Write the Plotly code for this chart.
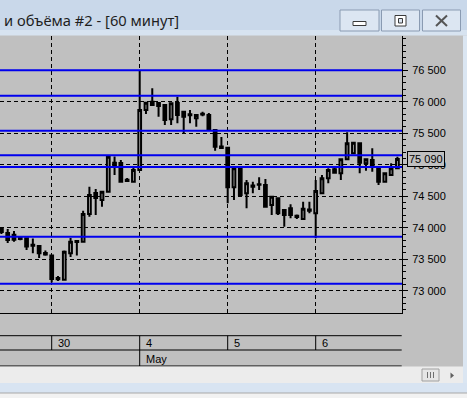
import plotly.graph_objects as go

# ---------------- data ----------------
candle_idx = list(range(-8, 56))  # hourly candles; 0 = first candle of 30 Apr
opens = [73930, 73916, 73890, 73850, 73832, 73730, 73710, 73600,
         73560, 73180, 73175, 73594, 73790, 73778, 74217, 74551, 74440, 74571, 75030, 75027, 74760, 74730,
         74916, 75868, 76000, 75979, 75948, 75721, 75979, 75841, 75800, 75737, 75795, 75789, 75551, 75290,
         75270, 74641, 74943, 74546, 74670, 74680, 74678, 74360, 74467, 74281, 74308, 74190, 74140, 74270,
         74229, 74546, 74784, 74927, 74863, 75086, 75181, 75340, 75022, 75075, 74943, 74730, 74837, 74943]
highs = [74010, 73980, 73948, 73865, 73840, 73830, 73725, 73640,
         73565, 73235, 73640, 73837, 73800, 74270, 74650, 74614, 74580, 75154, 75130, 75075, 74790, 74968,
         76503, 75990, 76213, 75990, 75960, 75985, 76079, 75845, 75868, 75800, 75841, 75821, 75560, 75440,
         75280, 74950, 74964, 74757, 74730, 74800, 74775, 74500, 74475, 74290, 74371, 74210, 74413, 74413,
         74757, 74837, 74943, 74968, 75095, 75514, 75360, 75345, 75095, 75260, 74950, 74870, 75022, 75125]
lows = [73900, 73757, 73778, 73800, 73646, 73594, 73520, 73555,
        73130, 73155, 73165, 73535, 73560, 73770, 74175, 74202, 74333, 74560, 74837, 74720, 74725, 74725,
        74900, 75805, 75940, 75762, 75630, 75630, 75657, 75498, 75657, 75603, 75770, 75540, 75222, 75260,
        74387, 74440, 74500, 74308, 74546, 74598, 74325, 74202, 74202, 74016, 74149, 74140, 74125, 74230,
        73832, 74540, 74705, 74865, 74757, 75080, 75170, 74863, 74905, 74889, 74678, 74720, 74830, 74930]
closes = [73980, 73805, 73810, 73820, 73700, 73712, 73594, 73575,
          73186, 73200, 73620, 73778, 73775, 74217, 74519, 74471, 74571, 75127, 74990, 74730, 74740, 74916,
          75868, 75984, 75948, 75932, 75710, 75975, 75789, 75762, 75785, 75789, 75810, 75551, 75286, 75265,
          74641, 74943, 74519, 74705, 74650, 74690, 74333, 74492, 74229, 74202, 74202, 74170, 74300, 74290,
          74583, 74784, 74916, 74873, 75086, 75340, 75349, 75032, 75086, 74968, 74730, 74863, 74943, 75090]

level_lines = [76500, 76095, 75540, 75152, 74963, 73857, 73111]
price_ticks = [73000, 73500, 74000, 74500, 75000, 75500, 76000, 76500]
day_starts = [0, 14, 28, 42]
day_labels = ["30", "4", "5", "6"]
month_start = 14
month_label = "May"
last_price = 75090
window_title = "и объёма #2 - [60 минут]"

# ---------------- geometry ----------------
W, H = 467, 398
ML, MR, MT, MB = 0, 65, 36, 85
PW = W - ML - MR
PH = H - MT - MB


def px(x):
    return (x - ML) / PW


def py(y):
    return (H - MB - y) / PH


GRAY = "#c0c0c0"
FONT = "Liberation Sans, Arial, sans-serif"

fig = go.Figure()
fig.add_trace(go.Candlestick(
    x=candle_idx, open=opens, high=highs, low=lows, close=closes,
    increasing=dict(line=dict(color="black", width=2), fillcolor=GRAY),
    decreasing=dict(line=dict(color="black", width=2), fillcolor="black"),
    whiskerwidth=0, showlegend=False, hoverinfo="skip",
))

shapes = []
# blue level lines
for lv in level_lines:
    shapes.append(dict(type="line", xref="paper", yref="y", x0=0, x1=1, y0=lv, y1=lv,
                       line=dict(color="#0000ee", width=2), layer="above"))

# time scale boxes under the chart
for yy in (335.7, 350, 366):
    shapes.append(dict(type="line", xref="paper", yref="paper", x0=0, x1=px(401.7),
                       y0=py(yy), y1=py(yy), line=dict(color="black", width=1)))
for d in day_starts:
    ybot = 366 if d == month_start else 350
    shapes.append(dict(type="line", xref="x", yref="paper", x0=d, x1=d,
                       y0=py(335.7), y1=py(ybot), line=dict(color="black", width=1)))

# window chrome: title bar
shapes.append(dict(type="rect", xref="paper", yref="paper", x0=px(0), x1=px(467), y0=py(0), y1=py(30),
                   fillcolor="#c9d8ea", line=dict(width=0), layer="above"))
shapes.append(dict(type="rect", xref="paper", yref="paper", x0=px(0), x1=px(467), y0=py(30), y1=py(35.5),
                   fillcolor="#d7e3f0", line=dict(width=0), layer="above"))
for bx0, bx1 in ((340, 379), (381.5, 419.5), (422.5, 460.5)):
    shapes.append(dict(type="rect", xref="paper", yref="paper", x0=px(bx0), x1=px(bx1), y0=py(10), y1=py(31),
                       fillcolor="#dce6f2", line=dict(color="#8a9bb2", width=1), layer="above"))
# minimize icon
shapes.append(dict(type="rect", xref="paper", yref="paper", x0=px(353), x1=px(366), y0=py(21.5), y1=py(25.5),
                   fillcolor="#ffffff", line=dict(color="#3a3a3a", width=1), layer="above"))
# maximize icon
shapes.append(dict(type="rect", xref="paper", yref="paper", x0=px(395), x1=px(406), y0=py(15.5), y1=py(26),
                   fillcolor="#ffffff", line=dict(color="#3a3a3a", width=1), layer="above"))
shapes.append(dict(type="rect", xref="paper", yref="paper", x0=px(398.5), x1=px(402.5), y0=py(18.5), y1=py(23),
                   fillcolor="#dce6f2", line=dict(color="#3a3a3a", width=1), layer="above"))
# close icon
shapes.append(dict(type="line", xref="paper", yref="paper", x0=px(436), x1=px(447), y0=py(15.5), y1=py(26),
                   line=dict(color="#555555", width=2), layer="above"))
shapes.append(dict(type="line", xref="paper", yref="paper", x0=px(436), x1=px(447), y0=py(26), y1=py(15.5),
                   line=dict(color="#555555", width=2), layer="above"))

# right border
shapes.append(dict(type="rect", xref="paper", yref="paper", x0=px(463), x1=px(467), y0=py(35.5), y1=py(383),
                   fillcolor="#dbe6f2", line=dict(width=0), layer="above"))
# scrollbar and bottom frame
shapes.append(dict(type="rect", xref="paper", yref="paper", x0=px(0), x1=px(463), y0=py(366.5), y1=py(383),
                   fillcolor="#ececec", line=dict(width=0), layer="above"))
shapes.append(dict(type="rect", xref="paper", yref="paper", x0=px(0), x1=px(467), y0=py(383), y1=py(393),
                   fillcolor="#d8e4f2", line=dict(width=0), layer="above"))
shapes.append(dict(type="rect", xref="paper", yref="paper", x0=px(0), x1=px(467), y0=py(393), y1=py(398),
                   fillcolor="#f2f2f2", line=dict(width=0), layer="above"))
shapes.append(dict(type="line", xref="paper", yref="paper", x0=px(0), x1=px(467), y0=py(393), y1=py(393),
                   line=dict(color="#a8a8a8", width=1), layer="above"))
shapes.append(dict(type="rect", xref="paper", yref="paper", x0=px(422), x1=px(439), y0=py(369), y1=py(381),
                   fillcolor="#e6e6e6", line=dict(color="#a0a0a0", width=1), layer="above"))
for gx in (427.5, 430.5, 433.5):
    shapes.append(dict(type="line", xref="paper", yref="paper", x0=px(gx), x1=px(gx), y0=py(372), y1=py(378),
                       line=dict(color="#707070", width=1), layer="above"))
shapes.append(dict(type="path", xref="paper", yref="paper",
                   path=f"M {px(450.5)} {py(372.5)} L {px(454)} {py(375.5)} L {px(450.5)} {py(378.5)} Z",
                   fillcolor="#606060", line=dict(width=0), layer="above"))

annotations = []
for d, lab in zip(day_starts, day_labels):
    annotations.append(dict(text=lab, xref="x", x=d, xanchor="left", xshift=4,
                            yref="paper", y=py(343), yanchor="middle", showarrow=False,
                            font=dict(family=FONT, size=11, color="black")))
annotations.append(dict(text=month_label, xref="x", x=month_start, xanchor="left", xshift=4,
                        yref="paper", y=py(358.5), yanchor="middle", showarrow=False,
                        font=dict(family=FONT, size=11, color="black")))
annotations.append(dict(text=f"{last_price:,}".replace(",", " "), xref="paper", x=px(406.5), xanchor="left",
                        yref="y", y=last_price, yanchor="middle", showarrow=False,
                        bgcolor=GRAY, bordercolor="black", borderwidth=1, borderpad=1,
                        font=dict(family=FONT, size=11, color="black")))
annotations.append(dict(text=window_title, xref="paper", x=px(2), xanchor="left",
                        yref="paper", y=py(20), yanchor="middle", showarrow=False,
                        font=dict(family="Noto Sans, Open Sans, sans-serif", size=14.7, color="#1e1e1e")))

fig.update_layout(
    width=W, height=H,
    margin=dict(l=ML, r=MR, t=MT, b=MB, pad=0),
    paper_bgcolor=GRAY, plot_bgcolor=GRAY,
    separators=". ",
    showlegend=False,
    boxgap=0.38,
    shapes=shapes,
    annotations=annotations,
    xaxis=dict(
        range=[-8.225, 55.73], tickmode="array", tickvals=day_starts, showticklabels=False,
        ticks="", showgrid=True, gridcolor="black", griddash="4px,3px", gridwidth=1,
        zeroline=False, showline=True, linecolor="black", linewidth=1,
        rangeslider=dict(visible=False), fixedrange=True,
    ),
    yaxis=dict(
        side="right", range=[72646, 77043], tickmode="array", tickvals=price_ticks,
        tickformat=",d", ticks="outside", ticklen=5, tickwidth=1, tickcolor="black",
        showline=True, linecolor="black", linewidth=1,
        showgrid=True, gridcolor="black", griddash="4px,3px", gridwidth=1, zeroline=False,
        tickfont=dict(family=FONT, size=11, color="black"),
        minor=dict(dtick=100, tick0=0, ticks="outside", ticklen=3, tickcolor="black", showgrid=False),
        ticklabelstandoff=2,
    ),
)

fig.write_html("out.html")
